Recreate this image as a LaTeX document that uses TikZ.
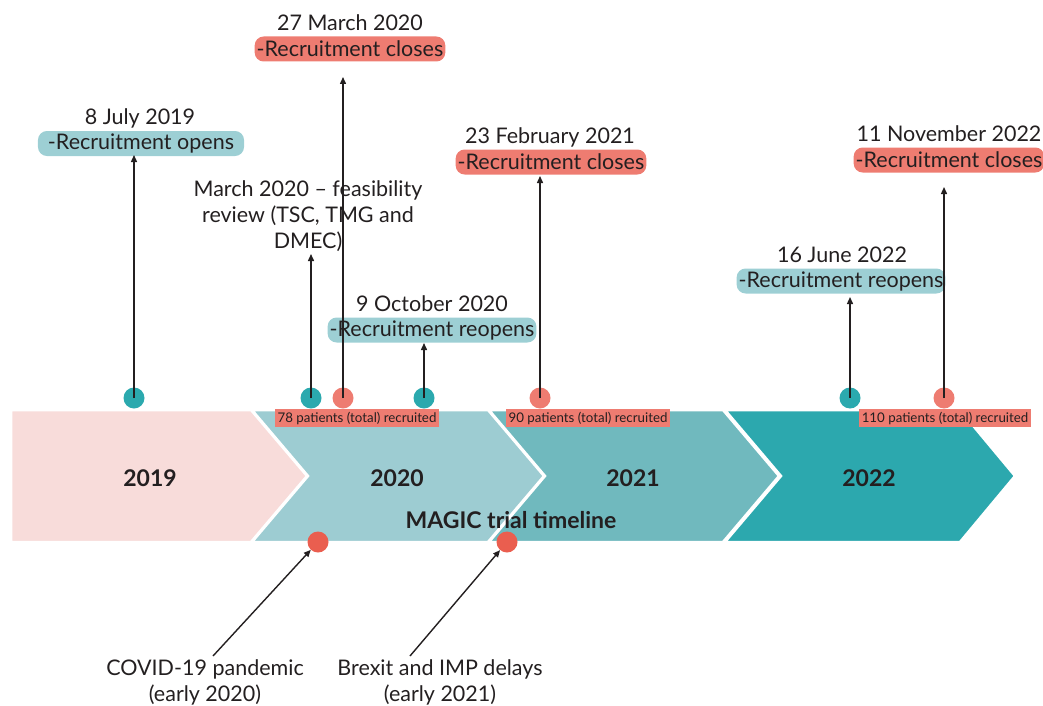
\documentclass[tikz,border=0pt]{standalone}
\usepackage{fontspec}
\setmainfont{Lato}
\usetikzlibrary{arrows.meta}
\definecolor{cpink}{HTML}{F8DCDA}
\definecolor{ctwo}{HTML}{9DCCD2}
\definecolor{cthree}{HTML}{70B9BE}
\definecolor{cfour}{HTML}{2CA8AE}
\definecolor{dteal}{HTML}{2BA9AE}
\definecolor{salmon}{HTML}{EE7C71}
\definecolor{dred}{HTML}{EA5E4F}
\definecolor{pteal}{HTML}{9DCFD4}
\definecolor{ink}{HTML}{231F20}
\tikzset{
  chev/.style={draw=white, line width=2.5pt, line join=miter},
  yearlbl/.style={font=\fontsize{23}{26}\selectfont\bfseries, text=ink},
  datelbl/.style={font=\fontsize{21.5}{24}\selectfont, text=ink, inner sep=0pt},
  pill/.style={rounded corners=9pt, font=\fontsize{21.5}{24}\selectfont, text=ink, inner xsep=2pt, inner ysep=0pt, minimum height=25pt},
  pillteal/.style={pill, fill=pteal},
  pillsal/.style={pill, fill=salmon},
  patlbl/.style={fill=salmon, font=\fontsize{13.3}{15}\selectfont, text=ink, inner xsep=3pt, inner ysep=0pt, minimum height=18pt},
  dotteal/.style={circle, fill=dteal, minimum size=21pt, inner sep=0pt},
  dotsal/.style={circle, fill=salmon, minimum size=21pt, inner sep=0pt},
  dotred/.style={circle, fill=dred, minimum size=21pt, inner sep=0pt},
  conn/.style={draw=ink, line width=1.4pt, -{Triangle[length=7pt,width=6pt]}},
  notelbl/.style={font=\fontsize{21.5}{26}\selectfont, text=ink, align=center, inner sep=0pt}
}
\begin{document}
\begin{tikzpicture}[x=1pt,y=-1pt]
\useasboundingbox (0,0) rectangle (1043,706);
% chevrons
\path[chev, fill=cpink] (11,410) -- (251,410) -- (307,476) -- (251,542) -- (11,542) -- cycle;
\path[chev, fill=ctwo] (252,410) -- (488,410) -- (544,476) -- (488,542) -- (252,542) -- (308,476) -- cycle;
\path[chev, fill=cthree] (489,410) -- (723,410) -- (779,476) -- (723,542) -- (489,542) -- (545,476) -- cycle;
\path[chev, fill=cfour] (725,410) -- (960,410) -- (1015,476) -- (960,542) -- (725,542) -- (781,476) -- cycle;
\fill[white] (0,409) rectangle (1043,410.5);
\fill[white] (0,541.5) rectangle (1043,543);
\fill[white] (0,405) rectangle (11,545);
% year labels
\node[yearlbl] (y19) at (150,478) {2019};
\node[yearlbl] (y20) at (397,478) {2020};
\node[yearlbl] (y21) at (633,478) {2021};
\node[yearlbl] (y22) at (869,478) {2022};
\node[font=\fontsize{23}{26}\selectfont\bfseries, text=ink] (title) at (511,520) {MAGIC trial timeline};
% patient labels
\node[patlbl] (p78) at (357,418) {78 patients (total) recruited};
\node[patlbl] (p90) at (588,418) {90 patients (total) recruited};
\node[patlbl] (p110) at (945,418) {110 patients (total) recruited};
% top dots
\node[dotteal] (d1) at (134,398) {};
\node[dotteal] (d2) at (311,398) {};
\node[dotsal] (d3) at (343,398) {};
\node[dotteal] (d4) at (424,398) {};
\node[dotsal] (d5) at (540,398) {};
\node[dotteal] (d6) at (850,398) {};
\node[dotsal] (d7) at (944,398) {};
% bottom dots
\node[dotred] (b1) at (318,542) {};
\node[dotred] (b2) at (507,542) {};
% labels top
\node[datelbl] (t1) at (140,118) {8 July 2019};
\node[pillteal, inner xsep=10pt] (l1) at (141,143.5) {-Recruitment opens};
\node[datelbl] (t3) at (350,23) {27 March 2020};
\node[pillsal] (l3) at (350,49) {-Recruitment closes};
\node[notelbl] (l2) at (308,216) {March 2020 -- feasibility\\review (TSC, TMG and\\DMEC)};
\node[datelbl] (t5) at (550,137) {23 February 2021};
\node[pillsal] (l5) at (551,162) {-Recruitment closes};
\node[datelbl] (t4) at (432,304) {9 October 2020};
\node[pillteal] (l4) at (432,330) {-Recruitment reopens};
\node[datelbl] (t6) at (842,255) {16 June 2022};
\node[pillteal] (l6) at (841,281) {-Recruitment reopens};
\node[datelbl] (t7) at (949,134) {11 November 2022};
\node[pillsal] (l7) at (949,160) {-Recruitment closes};
% arrow end points
\coordinate (e1) at (134,155);
\coordinate (e2) at (311,254);
\coordinate (e3) at (343,77);
\coordinate (e4) at (424,343);
\coordinate (e5) at (540,176);
\coordinate (e6) at (850,297);
\coordinate (e7) at (944,187);
\foreach \i in {1,...,7} {\draw[conn] (d\i.center) -- (e\i);}
% bottom notes
\node[notelbl] (n1) at (205,682) {COVID-19 pandemic\\(early 2020)};
\node[notelbl] (n2) at (440,682) {Brexit and IMP delays\\(early 2021)};
\coordinate (s1) at (213,656);
\coordinate (s2) at (410,656);
\draw[conn] (s1) -- (b1);
\draw[conn] (s2) -- (b2);
\end{tikzpicture}
\end{document}
